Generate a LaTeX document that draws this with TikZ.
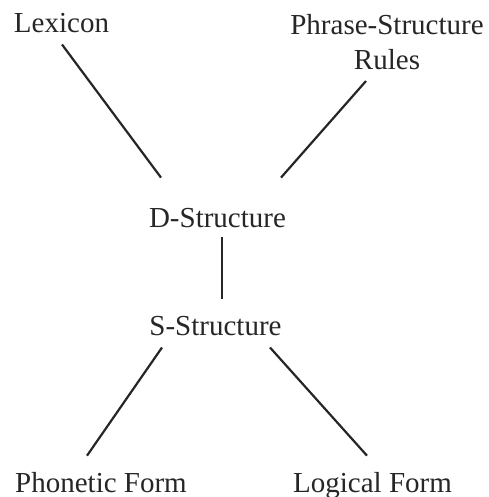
\documentclass[tikz,border=0pt]{standalone}
\usepackage{fontspec}
\setmainfont{Liberation Serif}
\usetikzlibrary{positioning}

\begin{document}
\begin{tikzpicture}[
  x=1pt,y=-1pt,
  level/.style={font=\fontsize{29}{35}\selectfont,text=black!85,inner sep=0pt,anchor=base},
  link/.style={black!85,line width=2.2pt}
]
  \useasboundingbox (0,0) rectangle (488,497);

  % Levels of the grammar, placed at their baselines.
  \node[level] (lex) at (61.5,33) {Lexicon};
  \node[level,align=center,anchor=south] (psr) at (387,70) {Phrase-Structure\\Rules};
  \node[level] (ds) at (217.5,227) {D-Structure};
  \node[level] (ss) at (215.5,335) {S-Structure};
  \node[level] (pf) at (101,492) {Phonetic Form};
  \node[level] (lf) at (372.5,492) {Logical Form};

  % Links between the levels.
  \draw[link] ([xshift=0.5pt,yshift=-11pt]lex.south) -- ([xshift=-56.5pt,yshift=30pt]ds.north);
  \draw[link] ([xshift=-21pt,yshift=-11pt]psr.south) -- ([xshift=63.5pt,yshift=30pt]ds.north);
  \draw[link] ([xshift=4.5pt,yshift=-10pt]ds.south) -- ([xshift=6.5pt,yshift=17pt]ss.north);
  \draw[link] ([xshift=-53.5pt,yshift=-12pt]ss.south) -- ([xshift=-14pt,yshift=16pt]pf.north);
  \draw[link] ([xshift=54.5pt,yshift=-12pt]ss.south) -- ([xshift=-5.5pt,yshift=16pt]lf.north);
\end{tikzpicture}
\end{document}
